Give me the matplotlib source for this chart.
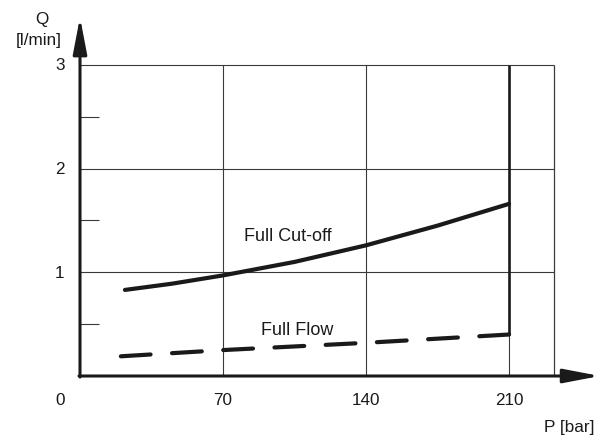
import matplotlib
matplotlib.use("Agg")
import matplotlib.pyplot as plt

# data
cutoff_p = [22, 45, 70, 105, 140, 175, 210]
cutoff_q = [0.83, 0.89, 0.97, 1.10, 1.26, 1.45, 1.66]
flow_p = [20, 70, 140, 210]
flow_q = [0.19, 0.25, 0.32, 0.40]

x_ticks = [70, 140, 210]
y_ticks = [1, 2, 3]
y_minor = [0.5, 1.5, 2.5]
x_edge = 232

plt.rcParams['font.family'] = ['Liberation Sans', 'DejaVu Sans']
ink = '#1a1a1a'
grid = '#3a3a3a'

fig = plt.figure(figsize=(6.01, 4.39), dpi=100)
ax = fig.add_axes([80 / 601, 62 / 439, 521 / 601, 358 / 439])
ax.set_xlim(0, 255)
ax.set_ylim(0, 3.452)
ax.axis('off')

# grid
for y in y_ticks:
    ax.plot([0, x_edge], [y, y], color=grid, lw=0.8, solid_capstyle='butt')
for x in x_ticks[:2]:
    ax.plot([x, x], [0, 3], color=grid, lw=0.8, solid_capstyle='butt')
ax.plot([x_edge, x_edge], [0, 3], color=grid, lw=0.9, solid_capstyle='butt')
# 210 line: thin below the Full Flow end, thick above it
ax.plot([210, 210], [0, flow_q[-1]], color=grid, lw=0.8, solid_capstyle='butt')
ax.plot([210, 210], [flow_q[-1], 3], color=ink, lw=1.9, solid_capstyle='butt')
# minor ticks on the Q axis
for y in y_minor:
    ax.plot([0, 9.3], [y, y], color=grid, lw=0.8, solid_capstyle='butt')

# axes with arrows
arrow = dict(arrowstyle='-|>,head_length=2.2,head_width=0.42', mutation_scale=10,
             lw=2.2, color=ink, shrinkA=0, shrinkB=0)
ax.annotate('', xy=(0, 3.46), xytext=(0, -0.01), arrowprops=arrow, annotation_clip=False)
ax.annotate('', xy=(254.5, 0), xytext=(-0.5, 0), arrowprops=arrow, annotation_clip=False)

# curves
ax.plot(cutoff_p, cutoff_q, color=ink, lw=3.0, solid_capstyle='round')
# 8 dashes fitted so both ends of the line are dashes
ax.plot(flow_p[::-1], flow_q[::-1], color=ink, lw=3.0, dashes=(7.15, 5.16), dash_capstyle='round')

ax.text(80.3, 1.35, 'Full Cut-off', fontsize=13, color=ink, ha='left', va='center')
ax.text(88.6, 0.45, 'Full Flow', fontsize=13, color=ink, ha='left', va='center')

# tick labels
fs = 12.3
for x in x_ticks:
    ax.text(x, -0.23, str(x), fontsize=fs, color=ink, ha='center', va='center', clip_on=False)
ax.text(-9.8, -0.23, '0', fontsize=fs, color=ink, ha='center', va='center', clip_on=False)
for y in y_ticks:
    ax.text(-9.8, y, str(y), fontsize=fs, color=ink, ha='center', va='center', clip_on=False)

ax.text(252, -0.49, 'P [bar]', fontsize=fs, color=ink, ha='right', va='center', clip_on=False)
ax.text(-18.6, 3.45, 'Q', fontsize=fs, color=ink, ha='center', va='center', clip_on=False)
ax.text(-20.3, 3.24, '[l/min]', fontsize=fs, color=ink, ha='center', va='center', clip_on=False)

fig.savefig('out.png', dpi=100)
